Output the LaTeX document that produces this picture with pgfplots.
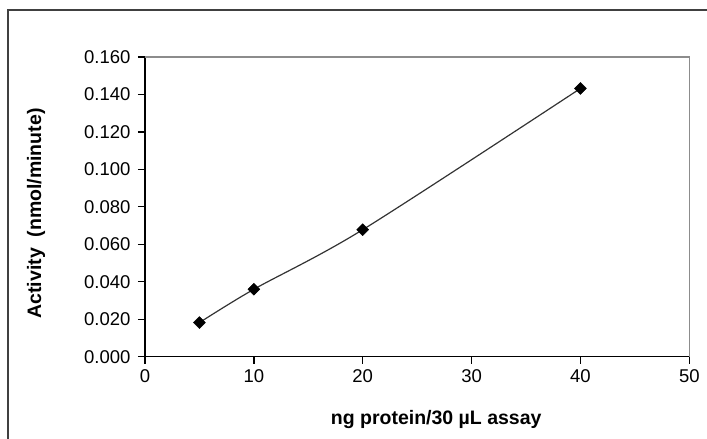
\documentclass[border=0pt]{standalone}
\usepackage{fontspec}
\setmainfont{Liberation Sans}
\usepackage{pgfplots}
\pgfplotsset{compat=1.18}
\definecolor{framecol}{RGB}{64,64,64}
\definecolor{boxgray}{RGB}{140,140,140}

\begin{document}
\begin{tikzpicture}[x=1pt,y=1pt]
\useasboundingbox (0,0) rectangle (707,439);
\begin{scope}
  \clip (0,0) rectangle (707,439);
  \draw[line width=1.6pt, framecol] (8,-10) -- (8,429) -- (720,429);
\end{scope}
\begin{axis}[
  at={(145pt,82.3pt)}, anchor=south west,
  scale only axis, width=544.3pt, height=299.7pt,
  xmin=0, xmax=50, ymin=0, ymax=0.16,
  xtick={0,10,20,30,40,50},
  ytick={0,0.02,0.04,0.06,0.08,0.1,0.12,0.14,0.16},
  axis lines*=left,
  axis line style={-, line width=1.5pt, black},
  tick align=outside, major tick length=7pt,
  tick style={line width=1.3pt, black},
  /pgf/number format/assume math mode=true,
  scaled y ticks=false,
  ticklabel style={font=\fontsize{18.5}{20}\selectfont},
  xticklabel style={yshift=-2pt},
  yticklabel style={xshift=-4pt, /pgf/number format/fixed,
    /pgf/number format/fixed zerofill, /pgf/number format/precision=3},
  xlabel={ng protein/30 µL assay},
  ylabel={Activity\ \ (nmol/minute)},
  xlabel style={at={(axis description cs:0.535,0)}, anchor=center, yshift=-63pt,
    font=\fontsize{19.5}{22}\selectfont\bfseries},
  ylabel style={at={(axis description cs:-0.2003,0.478)}, anchor=center,
    font=\fontsize{19.5}{22}\selectfont\bfseries},
  clip=false,
]
\draw[boxgray, line width=1.3pt] (rel axis cs:0,1) -- (rel axis cs:1,1) -- (rel axis cs:1,0);
\addplot[smooth, line width=1.2pt, color=black!80,
  mark=square*, mark size=4.2pt,
  mark options={rotate=45, fill=black, draw=black, line width=0.5pt}]
  coordinates {(5,0.0182)(10,0.036)(20,0.0678)(40,0.1432)};
\end{axis}
\end{tikzpicture}
\end{document}
